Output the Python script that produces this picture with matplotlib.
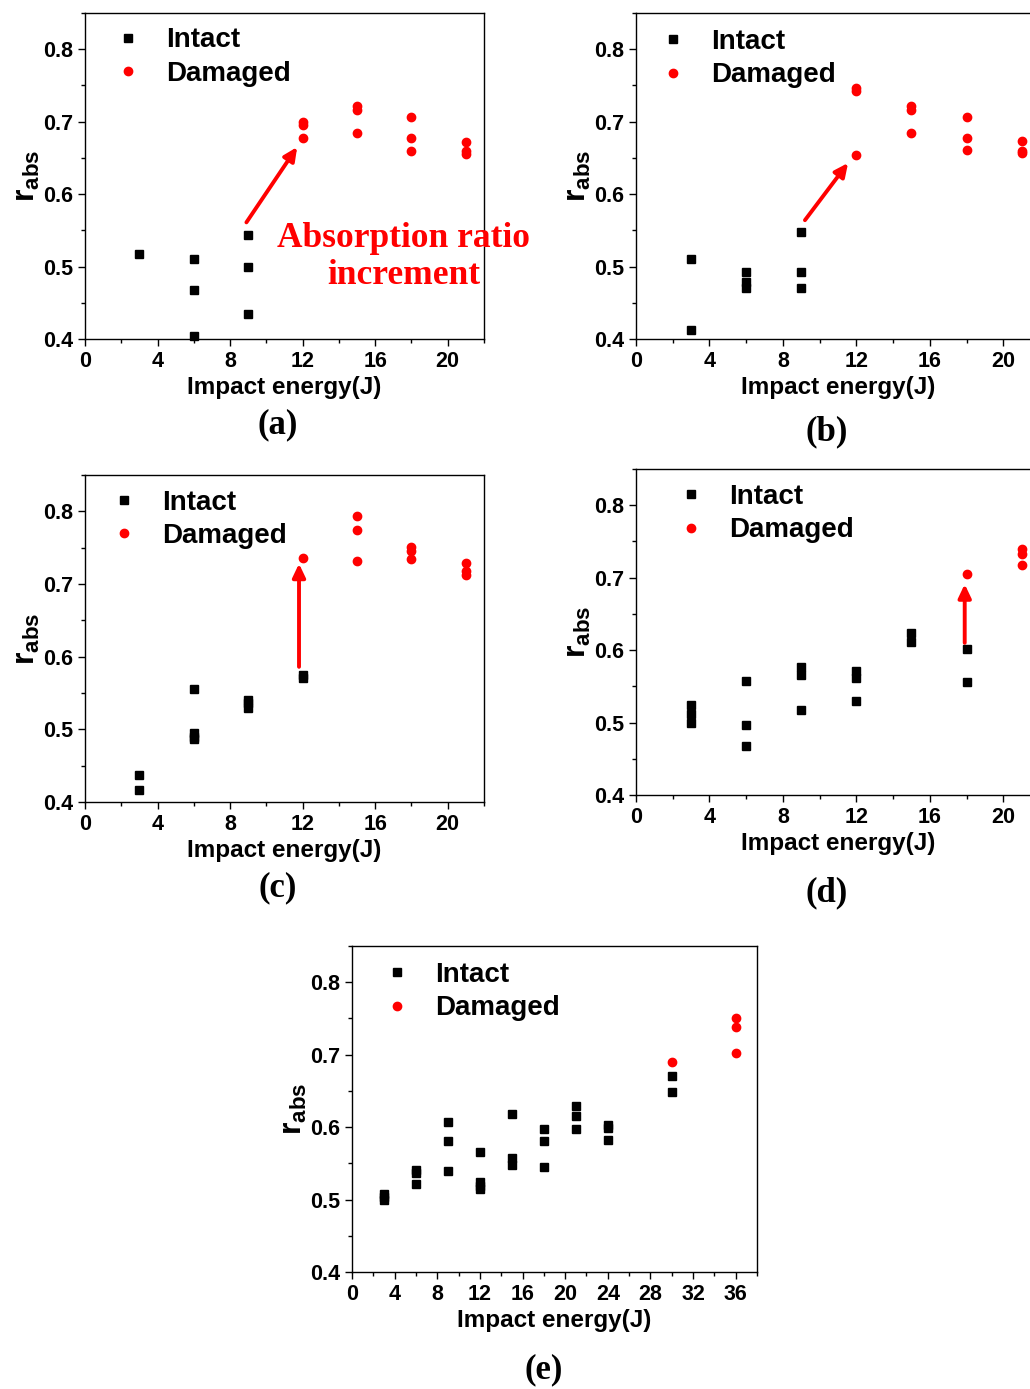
import numpy as np
import matplotlib
matplotlib.use("Agg")
import matplotlib.pyplot as plt
from matplotlib.ticker import MultipleLocator

plt.rcParams['font.family'] = ['Liberation Sans', 'DejaVu Sans']
plt.rcParams['font.weight'] = 'bold'
plt.rcParams['mathtext.fontset'] = 'custom'
plt.rcParams['mathtext.bf'] = 'Liberation Sans:bold'
plt.rcParams['mathtext.rm'] = 'Liberation Sans:bold'

### Data ###
# panel (a)
a_int_x = [3, 6, 6, 6, 9, 9, 9]
a_int_y = [0.518, 0.511, 0.468, 0.404, 0.544, 0.499, 0.435]
a_dam_x = [12, 12, 12, 15, 15, 15, 18, 18, 18, 21, 21, 21]
a_dam_y = [0.700, 0.696, 0.677, 0.722, 0.716, 0.684, 0.706, 0.678, 0.660, 0.672, 0.659, 0.656]

# panel (b)
b_int_x = [3, 3, 6, 6, 6, 9, 9, 9]
b_int_y = [0.511, 0.413, 0.493, 0.478, 0.471, 0.548, 0.493, 0.471]
b_dam_x = [12, 12, 12, 15, 15, 15, 18, 18, 18, 21, 21, 21]
b_dam_y = [0.746, 0.742, 0.654, 0.722, 0.716, 0.685, 0.706, 0.678, 0.661, 0.673, 0.660, 0.657]

# panel (c)
c_int_x = [3, 3, 6, 6, 6, 6, 9, 9, 9, 12, 12]
c_int_y = [0.437, 0.416, 0.556, 0.495, 0.490, 0.487, 0.541, 0.536, 0.530, 0.575, 0.570]
c_dam_x = [12, 15, 15, 15, 18, 18, 18, 21, 21, 21]
c_dam_y = [0.736, 0.794, 0.775, 0.732, 0.751, 0.746, 0.734, 0.729, 0.718, 0.712]

# panel (d)
d_int_x = [3, 3, 3, 6, 6, 6, 9, 9, 9, 12, 12, 12, 15, 15, 18, 18]
d_int_y = [0.524, 0.512, 0.500, 0.557, 0.496, 0.468, 0.577, 0.566, 0.517,
           0.571, 0.562, 0.530, 0.624, 0.611, 0.601, 0.556]
d_dam_x = [18, 21, 21, 21]
d_dam_y = [0.705, 0.739, 0.732, 0.717]

# panel (e)
e_int_x = [3, 3, 3, 6, 6, 6, 9, 9, 9, 12, 12, 12, 12, 15, 15, 15,
           18, 18, 18, 21, 21, 21, 24, 24, 24, 30, 30]
e_int_y = [0.508, 0.503, 0.499, 0.541, 0.537, 0.521, 0.607, 0.581, 0.539,
           0.566, 0.524, 0.519, 0.515, 0.618, 0.558, 0.548,
           0.597, 0.581, 0.545, 0.629, 0.615, 0.598, 0.603, 0.599, 0.582,
           0.670, 0.648]
e_dam_x = [30, 36, 36, 36]
e_dam_y = [0.690, 0.750, 0.738, 0.702]

panel_labels = ['(a)', '(b)', '(c)', '(d)', '(e)']

### Figure ###
fig = plt.figure(figsize=(10.3, 13.89), dpi=100)
W, H = 1030.0, 1389.0

def make_axes(left, right, top, bottom):
    return fig.add_axes([left / W, 1 - bottom / H, (right - left) / W, (bottom - top) / H])

def style(ax, xmax, xstep):
    ax.set_xlim(0, xmax)
    ax.set_ylim(0.4, 0.85)
    ax.xaxis.set_major_locator(MultipleLocator(xstep))
    ax.xaxis.set_minor_locator(MultipleLocator(xstep / 2))
    ax.yaxis.set_major_locator(MultipleLocator(0.1))
    ax.yaxis.set_minor_locator(MultipleLocator(0.05))
    ax.tick_params(which='both', direction='out', top=False, right=False, width=1.0)
    ax.tick_params(which='major', length=5, labelsize=15.5, pad=3.5)
    ax.tick_params(which='minor', length=3)
    ax.yaxis.set_major_formatter(matplotlib.ticker.FormatStrFormatter('%.1f'))
    ax.xaxis.set_major_formatter(matplotlib.ticker.FormatStrFormatter('%d'))
    for s in ax.spines.values():
        s.set_linewidth(1.0)
    ax.set_xlabel('Impact energy(J)', fontsize=17.5, fontweight='bold', labelpad=3)
    ax.set_ylabel(r'$\mathbf{r_{abs}}$', fontsize=23, labelpad=1)

def scatter(ax, ix, iy, dx, dy, lx, ly):
    ax.plot(ix, iy, 's', color='black', markersize=6, label='Intact', clip_on=False)
    ax.plot(dx, dy, 'o', color='red', markersize=6, label='Damaged', clip_on=False)
    ax.legend(loc='upper left', bbox_to_anchor=(lx, ly), frameon=False,
              handlelength=1.0, handletextpad=0.87, labelspacing=0.26,
              borderaxespad=0, prop={'weight': 'bold', 'size': 20})

def arrow(ax, x0, y0, x1, y1):
    ax.annotate('', xy=(x1, y1), xytext=(x0, y0),
                arrowprops=dict(arrowstyle='-|>,head_length=0.8,head_width=0.38',
                                color='red', lw=2.8, shrinkA=0, shrinkB=0),
                annotation_clip=False)

ax_a = make_axes(85, 484, 13, 339)
style(ax_a, 22, 4)
scatter(ax_a, a_int_x, a_int_y, a_dam_x, a_dam_y, 0.045, 0.99)
arrow(ax_a, 8.9, 0.561, 11.7, 0.665)
ax_a.text(17.57, 0.513, 'Absorption ratio\nincrement', color='red', ha='center', va='center',
          fontsize=25.5, fontweight='bold', family=['Liberation Serif'], linespacing=1.15,
          clip_on=False)

ax_b = make_axes(636, 1040, 13, 339)
style(ax_b, 22, 4)
scatter(ax_b, b_int_x, b_int_y, b_dam_x, b_dam_y, 0.03, 0.985)
arrow(ax_b, 9.2, 0.564, 11.55, 0.643)

ax_c = make_axes(85, 484, 475, 802)
style(ax_c, 22, 4)
scatter(ax_c, c_int_x, c_int_y, c_dam_x, c_dam_y, 0.035, 0.989)
arrow(ax_c, 11.8, 0.586, 11.8, 0.728)

ax_d = make_axes(636, 1040, 469, 795)
style(ax_d, 22, 4)
scatter(ax_d, d_int_x, d_int_y, d_dam_x, d_dam_y, 0.074, 0.988)
arrow(ax_d, 17.9, 0.61, 17.9, 0.691)

ax_e = make_axes(352, 757, 946, 1272)
style(ax_e, 38, 4)
scatter(ax_e, e_int_x, e_int_y, e_dam_x, e_dam_y, 0.049, 0.985)

# panel captions
label_pos = [(278, 425), (827, 432), (278, 888), (827, 893), (544, 1370)]
for lab, (px, py) in zip(panel_labels, label_pos):
    fig.text(px / W, 1 - py / H, lab, ha='center', va='center', fontsize=25,
             fontweight='bold', family=['Liberation Serif'])

fig.savefig('out.png', dpi=100)
